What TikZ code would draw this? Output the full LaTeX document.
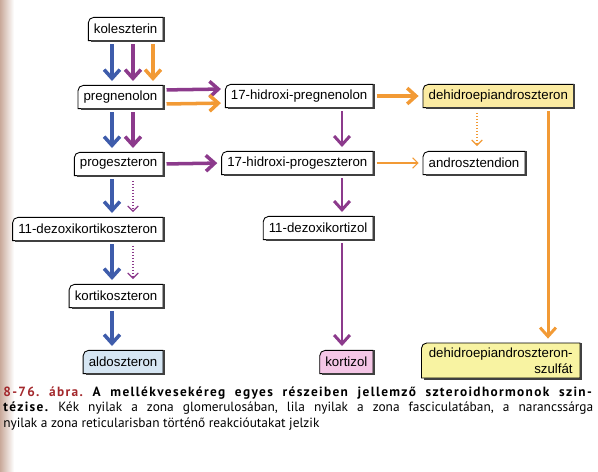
\documentclass[tikz,border=0pt]{standalone}
\usepackage{fontspec}
\usetikzlibrary{arrows.meta,backgrounds}
\newfontfamily\dobozbetu{Liberation Sans}
\newfontfamily\feliratbetu{PT Sans}[BoldFeatures={LetterSpace=10}]
\definecolor{kek}{HTML}{3E5CAB}
\definecolor{lila}{HTML}{8C3A8C}
\definecolor{narancs}{HTML}{F29A35}
\definecolor{dheasarga}{HTML}{FBEBA2}
\definecolor{szulfatsarga}{HTML}{F8F3A2}
\definecolor{aldokek}{HTML}{D6E6F3}
\definecolor{kortrozsa}{HTML}{F4C6E6}
\definecolor{abrapiros}{HTML}{A3282C}
\definecolor{lapszel}{HTML}{C9A99A}

\begin{document}
\begin{tikzpicture}
        [x=0.02cm, y=-0.02cm,
         doboz/.style={inner xsep=3pt, inner ysep=0pt, minimum height=12.8pt,
            font=\dobozbetu\fontsize{7.55}{9}\selectfont},
         vastag/.style={line width=2pt, -{Straight Barb[length=5pt,width=9pt]},
            shorten <=2pt, shorten >=2.5pt},
         kozep/.style={line width=1.7pt, -{Straight Barb[length=5pt,width=9pt]},
            shorten <=2pt, shorten >=2.5pt},
         vekony/.style={line width=0.6pt, -{Straight Barb[length=3pt,width=6pt]},
            shorten <=2pt, shorten >=2.5pt},
         pontos/.style={line width=0.7pt, densely dotted, -{Straight Barb[length=3pt,width=6pt]},
            shorten <=3pt, shorten >=3pt}]
        \useasboundingbox (0,0) rectangle (598,471);

        %-----bal oszlop
         \node[doboz, anchor=east] (KOL)  at (163,29)  {koleszterin};
         \node[doboz, anchor=east] (PREG) at (163,97)  {pregnenolon};
         \node[doboz, anchor=east] (PROG) at (163,164) {progeszteron};
         \node[doboz, anchor=east] (DOC)  at (163,229) {11-dezoxikortikoszteron};
         \node[doboz, anchor=east] (KORT) at (163,296) {kortikoszteron};
         \node[doboz, anchor=east] (ALDO) at (163,362) {aldoszteron};
        %-----kozepso oszlop
         \node[doboz, anchor=east] (OHPREG) at (373,96)  {17-hidroxi-pregnenolon};
         \node[doboz, anchor=east] (OHPROG) at (373,163) {17-hidroxi-progeszteron};
         \node[doboz, anchor=east] (DOKORT) at (373,228) {11-dezoxikortizol};
         \node[doboz, anchor=east] (KORTIZOL) at (373,362) {kortizol};
        %-----jobb oszlop
         \node[doboz, anchor=west] (DHEA)  at (423,96)  {dehidroepiandroszteron};
         \node[doboz, anchor=west] (ANDRO) at (423,163) {androsztendion};
         \node[doboz, anchor=north east, align=right, inner ysep=2.5pt, inner xsep=4pt] (DHEAS) at (580,343)
            {dehidroepiandroszteron-\\szulfát};

        % keretek: csak a bal felso sarok kerek, jobb es also el arnyekos
        \begin{scope}[on background layer]
         \shade[left color=lapszel, right color=white] (0,0) rectangle (14,471);
         \foreach \n/\szin in {KOL/white,PREG/white,PROG/white,DOC/white,KORT/white,
            ALDO/aldokek,OHPREG/white,OHPROG/white,DOKORT/white,KORTIZOL/kortrozsa,
            DHEA/dheasarga,ANDRO/white,DHEAS/szulfatsarga}
         {
         \filldraw[fill=\szin, line width=0.5pt] (\n.south west) -- ([yshift=-3pt]\n.north west)
            arc[start angle=180, end angle=90, radius=3pt] -- (\n.north east)
            -- (\n.south east) -- cycle;
         \draw[black!75, line width=1pt] ([xshift=0.4pt]\n.north east) -- ([xshift=0.4pt,yshift=-0.4pt]\n.south east)
            -- ([xshift=1.5pt,yshift=-0.4pt]\n.south west);
         }
        \end{scope}

         \coordinate (xb) at (112,0);
         \coordinate (xl) at (133,0);
         \coordinate (xn) at (153,0);
         \coordinate (xk) at (342,0);
         \coordinate (xd) at (477,0);
         \coordinate (xs) at (548,0);

        % kek nyilak: zona glomerulosa
         \foreach \from/\to in {KOL/PREG,PREG/PROG,PROG/DOC,DOC/KORT,KORT/ALDO}
         \draw[vastag, kek] (\from.south -| xb) -- (\to.north -| xb);

        % lila nyilak: zona fasciculata
         \foreach \from/\to in {KOL/PREG,PREG/PROG}
         \draw[vastag, lila] (\from.south -| xl) -- (\to.north -| xl);
         \foreach \from/\to in {PROG/DOC,DOC/KORT}
         \draw[pontos, lila] (\from.south -| xl) -- (\to.north -| xl);
         \foreach \from/\to in {OHPREG/OHPROG,OHPROG/DOKORT,DOKORT/KORTIZOL}
         \draw[kozep, lila] (\from.south -| xk) -- (\to.north -| xk);
         \draw[vastag, lila] ([yshift=4pt]PREG.east) -- ([yshift=4pt]OHPREG.west);
         \draw[vastag, lila] (PROG.east) -- (OHPROG.west);

        % narancs nyilak: zona reticularis
         \draw[vastag, narancs] (KOL.south -| xn) -- (PREG.north -| xn);
         \draw[vastag, narancs] ([yshift=-4pt]PREG.east) -- ([yshift=-4pt]OHPREG.west);
         \draw[vastag, narancs] (OHPREG.east) -- (DHEA.west);
         \draw[pontos, narancs] (DHEA.south -| xd) -- (ANDRO.north -| xd);
         \draw[vekony, narancs] (OHPROG.east) -- (ANDRO.west);
         \draw[kozep, narancs] (DHEA.south -| xs) -- (DHEAS.north -| xs);

        % abrafelirat
         \node[anchor=north west, inner sep=0pt, align=left,
            font=\feliratbetu\fontsize{7.6}{8.55}\selectfont\frenchspacing] (FELIRAT) at (3,387)
            {\makebox[11.8cm][s]{\textbf{\textcolor{abrapiros}{8-76. ábra.} A mellékvesekéreg egyes részeiben jellemző szteroidhormonok szin-}}\\
             \makebox[11.8cm][s]{\textbf{tézise.} Kék nyilak a zona glomerulosában, lila nyilak a zona fasciculatában, a narancssárga}\\
             nyilak a zona reticularisban történő reakcióutakat jelzik};
\end{tikzpicture}
\end{document}
